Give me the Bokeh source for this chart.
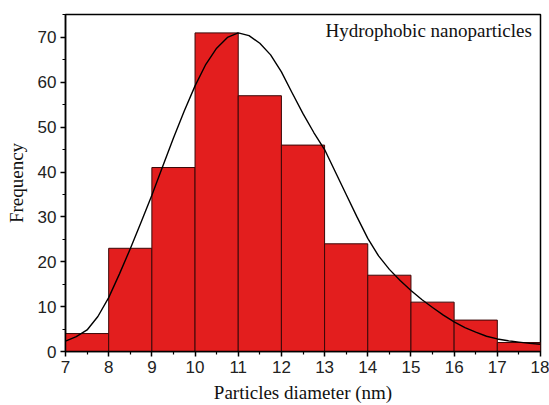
from bokeh.plotting import figure
from bokeh.models import Range1d, Label, FixedTicker
from bokeh.embed import file_html
from bokeh.resources import INLINE

# Histogram bins (nm) and counts
bin_left = [7, 8, 9, 10, 11, 12, 13, 14, 15, 16, 17]
bin_right = [8, 9, 10, 11, 12, 13, 14, 15, 16, 17, 18]
counts = [4, 23, 41, 71, 57, 46, 24, 17, 11, 7, 2]

# Fitted distribution curve, sampled along the diameter axis
fit_x = [7.0, 7.25, 7.5, 7.75, 8.0, 8.25, 8.5, 8.75, 9.0, 9.25, 9.5, 9.75,
         10.0, 10.25, 10.5, 10.75, 11.0, 11.25, 11.5, 11.75, 12.0, 12.25,
         12.5, 12.75, 13.0, 13.25, 13.5, 13.75, 14.0, 14.25, 14.5, 14.75,
         15.0, 15.25, 15.5, 15.75, 16.0, 16.25, 16.5, 16.75, 17.0, 17.25,
         17.5, 17.75, 18.0]
fit_y = [2.3, 3.3, 4.8, 7.8, 12.0, 17.3, 22.9, 28.8, 34.8, 41.2, 47.6, 53.6,
         59.2, 64.0, 67.6, 70.0, 71.0, 70.4, 68.7, 66.1, 62.3, 57.6,
         53.0, 48.8, 45.0, 40.0, 35.0, 30.0, 25.2, 21.3, 18.3, 15.8,
         13.6, 11.6, 9.8, 8.1, 6.6, 5.3, 4.3, 3.4, 2.8, 2.4,
         2.1, 1.8, 1.6]

x_ticks = [7, 8, 9, 10, 11, 12, 13, 14, 15, 16, 17, 18]
y_ticks = [0, 10, 20, 30, 40, 50, 60, 70]

p = figure(width=549, height=405, output_backend="svg", toolbar_location=None,
           x_range=Range1d(7, 18), y_range=Range1d(0, 75.1))
p.min_border_left = 65
p.min_border_right = 9
p.min_border_top = 14
p.min_border_bottom = 54
p.background_fill_color = "white"
p.border_fill_color = "white"
p.grid.visible = False
p.outline_line_color = "black"
p.outline_line_width = 1.5

p.quad(left=bin_left, right=bin_right, bottom=0, top=counts,
       fill_color="#e31e1e", line_color="#3a0808", line_width=1)
p.line(fit_x, fit_y, line_color="black", line_width=1.4)

p.add_layout(Label(x=17.8, y=71.6, text="Hydrophobic nanoparticles",
                   text_align="right", text_baseline="middle",
                   text_font="Liberation Serif", text_font_size="19px",
                   text_color="#111111"))

p.xaxis.ticker = FixedTicker(ticks=x_ticks,
                             minor_ticks=[v + 0.5 for v in x_ticks[:-1]])
p.yaxis.ticker = FixedTicker(ticks=y_ticks,
                             minor_ticks=[v + 5 for v in y_ticks])

for ax in (p.xaxis[0], p.yaxis[0]):
    ax.axis_line_width = 1.5
    ax.axis_line_color = "black"
    ax.major_tick_in = 0
    ax.major_tick_out = 5
    ax.major_tick_line_width = 1.5
    ax.minor_tick_in = 0
    ax.minor_tick_out = 3
    ax.minor_tick_line_width = 1.2
    ax.major_label_text_font = "Liberation Sans"
    ax.major_label_text_font_size = "17px"
    ax.major_label_text_color = "#222222"
    ax.axis_label_text_font = "Liberation Serif"
    ax.axis_label_text_font_size = "19px"
    ax.axis_label_text_font_style = "normal"
    ax.axis_label_text_color = "#111111"

p.xaxis.axis_label = "Particles diameter (nm)"
p.yaxis.axis_label = "Frequency"
p.xaxis.major_label_standoff = 4
p.yaxis.major_label_standoff = 4
p.xaxis.axis_label_standoff = 6
p.yaxis.axis_label_standoff = 8

open("out.html", "w").write(file_html(p, INLINE))
